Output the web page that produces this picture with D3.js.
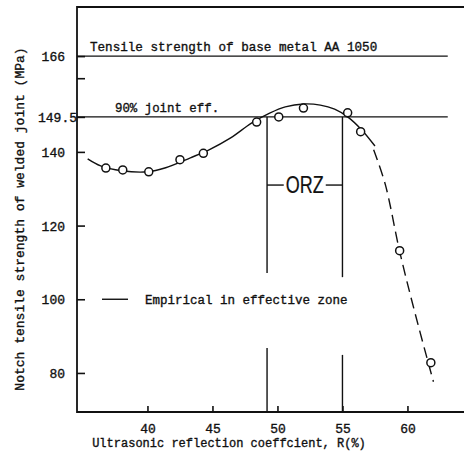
<!DOCTYPE html>
<html>
<head>
<meta charset="utf-8">
<script src="https://cdn.jsdelivr.net/npm/d3@7"></script>
<style>
    body { margin: 0; background: #fff; }
    text { font-family: 'Liberation Mono', 'DejaVu Sans Mono', monospace; fill: #111; stroke: #111; stroke-width: 0.35px; }
</style>
</head>
<body>
<svg></svg>
<script>
// measured points (R %, notch tensile strength MPa)
const pointR = [36.8, 38.1, 40.1, 42.5, 44.3, 48.4, 50.1, 52.0, 55.4, 56.4, 59.4, 61.8];
const pointMPa = [135.6, 135.1, 134.6, 137.9, 139.6, 148.1, 149.5, 151.9, 150.6, 145.5, 113.2, 82.8];

// fitted curve, solid part and empirical (dashed) part
const fitR = [35.4, 36.4, 38.0, 40.0, 41.4, 43.3, 44.7, 46.4, 48.0, 49.4, 50.6, 52.0, 53.3, 54.4, 55.4, 56.5, 57.5];
const fitMPa = [138.1, 136.2, 134.9, 134.6, 135.7, 138.4, 140.5, 143.8, 147.8, 150.5, 152.2, 153.0, 152.7, 151.6, 149.5, 145.9, 141.6];
const empR = [57.4, 58.3, 59.4, 60.6, 62.0];
const empMPa = [140.6, 131.1, 113.0, 96.0, 77.6];

// reference levels and optimum zone
const baseMetal = 166;
const jointEff = 149.5;
const orzBounds = [49.2, 55.0];

const xTicks = [40, 45, 50, 55, 60];
const yTicks = [80, 100, 120, 140, 149.5, 160, 166];
const yTickLabels = ['80', '100', '120', '140', '149.5', '', '166'];

let width = 464, height = 456;
let margin = { top: 6, right: 0, bottom: 44, left: 77 };

let svg = d3.select('svg')
    .attr('width', width)
    .attr('height', height);

let xScale = d3.scaleLinear()
    .domain([34.58, 64.35])
    .range([margin.left, width - margin.right]);

let yScale = d3.scaleLinear()
    .domain([69.4, 179.6])
    .range([height - margin.bottom, margin.top]);

// axes with inward ticks
let xAxis = svg.append('g')
    .attr('transform', `translate(0, ${height - margin.bottom})`)
    .call(d3.axisBottom(xScale).tickValues(xTicks).tickSize(-6).tickPadding(12).tickFormat(d3.format('d')));

let yAxis = svg.append('g')
    .attr('transform', `translate(${margin.left}, 0)`)
    .call(d3.axisLeft(yScale).tickValues(yTicks).tickSize(-8).tickPadding(12)
        .tickFormat((d, i) => yTickLabels[i]));

svg.selectAll('.domain').remove();
xAxis.selectAll('line').attr('stroke', '#111').attr('stroke-width', 1.6);
yAxis.selectAll('line').attr('stroke', '#111').attr('stroke-width', 1.6);
xAxis.selectAll('text').style('font-size', '13px').attr('fill', '#111');
yAxis.selectAll('text').style('font-size', '13px').attr('fill', '#111').attr('dy', '0.35em');
yAxis.selectAll('text').filter(d => d === jointEff).attr('x', 0).attr('text-anchor', 'end');

// frame: left, bottom and top
let x0 = xScale.range()[0], x1 = xScale.range()[1];
let y0 = yScale.range()[0], y1 = yScale.range()[1];
svg.append('path')
    .attr('d', `M${x1},${y1 + 1}H${x0}V${y0}H${x1}`)
    .attr('fill', 'none')
    .attr('stroke', '#111')
    .attr('stroke-width', 1.8);

// horizontal reference lines
let lineEnd = 63.1;
[baseMetal, jointEff].forEach(v => {
    svg.append('line')
        .attr('x1', x0).attr('x2', xScale(lineEnd))
        .attr('y1', yScale(v)).attr('y2', yScale(v))
        .attr('stroke', '#111').attr('stroke-width', 1.4);
});

svg.append('text')
    .attr('x', 90).attr('y', yScale(baseMetal) - 5)
    .style('font-size', '12.6px')
    .text('Tensile strength of base metal AA 1050');

svg.append('text')
    .attr('x', 115).attr('y', yScale(jointEff) - 5)
    .style('font-size', '12.4px')
    .text('90% joint eff.');

// ORZ verticals, broken around the legend text
let gaps = [[107.1, 86.8], [106.0, 84.9]];
orzBounds.forEach((r, i) => {
    svg.append('line')
        .attr('x1', xScale(r)).attr('x2', xScale(r))
        .attr('y1', yScale(jointEff)).attr('y2', yScale(gaps[i][0]))
        .attr('stroke', '#111').attr('stroke-width', 1.4);
    svg.append('line')
        .attr('x1', xScale(r)).attr('x2', xScale(r))
        .attr('y1', yScale(gaps[i][1])).attr('y2', y0)
        .attr('stroke', '#111').attr('stroke-width', 1.4);
});

let orzY = yScale(131);
let orzMid = (xScale(orzBounds[0]) + xScale(orzBounds[1])) / 2;
svg.append('line')
    .attr('x1', xScale(orzBounds[0])).attr('x2', orzMid - 21)
    .attr('y1', orzY).attr('y2', orzY)
    .attr('stroke', '#111').attr('stroke-width', 1.4);
svg.append('line')
    .attr('x1', orzMid + 21).attr('x2', xScale(orzBounds[1]))
    .attr('y1', orzY).attr('y2', orzY)
    .attr('stroke', '#111').attr('stroke-width', 1.4);
svg.append('text')
    .attr('x', orzMid).attr('y', orzY)
    .attr('dy', '0.36em')
    .attr('text-anchor', 'middle')
    .attr('textLength', 38)
    .attr('lengthAdjust', 'spacingAndGlyphs')
    .style('font-family', "'Liberation Sans', Arial, sans-serif")
    .style('font-size', '23px')
    .style('stroke-width', '0.2px')
    .text('ORZ');

// curves
let line = d3.line()
    .x(d => xScale(d[0]))
    .y(d => yScale(d[1]))
    .curve(d3.curveCatmullRom);

svg.append('path')
    .attr('d', line(fitR.map((r, i) => [r, fitMPa[i]])))
    .attr('fill', 'none')
    .attr('stroke', '#111')
    .attr('stroke-width', 1.4);

svg.append('path')
    .attr('d', line(empR.map((r, i) => [r, empMPa[i]])))
    .attr('fill', 'none')
    .attr('stroke', '#111')
    .attr('stroke-width', 1.4)
    .attr('stroke-dasharray', '11,6');

// data points
svg.selectAll('circle')
    .data(pointR.map((r, i) => [r, pointMPa[i]]))
    .enter()
    .append('circle')
    .attr('cx', d => xScale(d[0]))
    .attr('cy', d => yScale(d[1]))
    .attr('r', 4)
    .attr('fill', '#fff')
    .attr('stroke', '#111')
    .attr('stroke-width', 1.5);

// legend
let legY = yScale(100);
svg.append('line')
    .attr('x1', 102).attr('x2', 128)
    .attr('y1', legY).attr('y2', legY)
    .attr('stroke', '#111').attr('stroke-width', 1.4);
svg.append('text')
    .attr('x', 145).attr('y', legY)
    .attr('dy', '0.35em')
    .style('font-size', '12.5px')
    .text('Empirical in effective zone');

// axis titles
svg.append('text')
    .attr('x', 229).attr('y', 447)
    .attr('text-anchor', 'middle')
    .style('font-size', '12px')
    .text('Ultrasonic reflection coeffcient, R(%)');

svg.append('text')
    .attr('transform', 'translate(24, 219) rotate(-90)')
    .attr('text-anchor', 'middle')
    .style('font-size', '13px')
    .text('Notch tensile strength of welded joint (MPa)');
</script>
</body>
</html>
